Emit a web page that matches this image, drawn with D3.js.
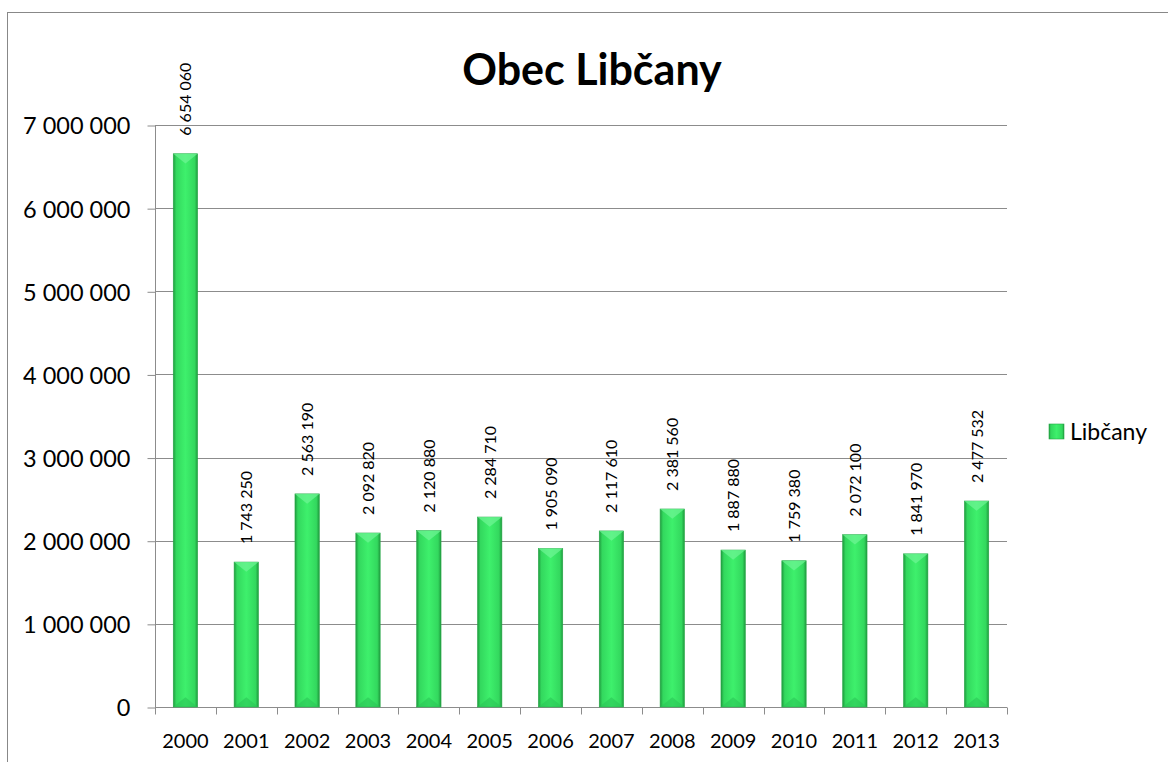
<!DOCTYPE html>
<html><head><meta charset="utf-8">
<script src="https://cdn.jsdelivr.net/npm/d3@7"></script>
<style>body{margin:0;background:#fff}svg{display:block}text{font-family:Lato,"Open Sans",sans-serif}</style>
</head><body>
<script>
const categories = ["2000","2001","2002","2003","2004","2005","2006","2007","2008","2009","2010","2011","2012","2013"];
const values = [6654060,1743250,2563190,2092820,2120880,2284710,1905090,2117610,2381560,1887880,1759380,2072100,1841970,2477532];
const yTicks = [0,1000000,2000000,3000000,4000000,5000000,6000000,7000000];
const seriesName = "Libčany";
const title = "Obec Libčany";

const W=1168,H=762;
const svg=d3.select("body").append("svg").attr("width",W).attr("height",H);
const fmt=v=>d3.format(",")(v).replace(/,/g," ");

svg.append("rect").attr("x",7.5).attr("y",12.5).attr("width",1180).attr("height",800).attr("fill","#fff").attr("stroke","#888").attr("stroke-width",1);

const x=d3.scaleBand().domain(categories).range([155,1007]).paddingInner(0.6).paddingOuter(0.3);
const xb=d3.scaleBand().domain(categories).range([155,1007]);
const y=d3.scaleLinear().domain([0,7000000]).range([707,125]);

const defs=svg.append("defs");
const g=defs.append("linearGradient").attr("id","bar").attr("x1","0").attr("x2","1").attr("y1","0").attr("y2","0");
g.append("stop").attr("offset","0").attr("stop-color","#1f9a3e");
g.append("stop").attr("offset","0.12").attr("stop-color","#33d85e");
g.append("stop").attr("offset","0.5").attr("stop-color","#3ef06c");
g.append("stop").attr("offset","0.88").attr("stop-color","#33d85e");
g.append("stop").attr("offset","1").attr("stop-color","#1f9a3e");

// gridlines
svg.append("g").selectAll("line").data(yTicks.slice(1)).join("line")
 .attr("x1",155).attr("x2",1007).attr("y1",d=>Math.round(y(d))+0.5).attr("y2",d=>Math.round(y(d))+0.5)
 .attr("stroke","#8c8c8c").attr("stroke-width",1);

// y axis
const ya=svg.append("g").attr("transform","translate(155.5,0.5)").call(d3.axisLeft(y).tickValues(yTicks).tickFormat(fmt).tickSize(8).tickPadding(17));
ya.select(".domain").attr("stroke","#8c8c8c").attr("d","M0,"+Math.round(y(7000000))+"V"+Math.round(y(0)));
ya.selectAll(".tick line").attr("stroke","#8c8c8c");
ya.selectAll("text").attr("font-size",23.5).attr("fill","#000").attr("font-family","Lato").attr("dy","0.36em");

// x axis
const xa=svg.append("g").attr("transform","translate(0,"+(Math.round(y(0))+0.5)+")");
xa.append("line").attr("x1",155).attr("x2",1007).attr("stroke","#8c8c8c");
const bounds=categories.map(c=>xb(c)).concat([1007]);
xa.selectAll("line.t").data(bounds).join("line").attr("class","t")
 .attr("x1",d=>Math.round(d)+0.5).attr("x2",d=>Math.round(d)+0.5).attr("y1",0).attr("y2",7).attr("stroke","#8c8c8c");
xa.selectAll("text").data(categories).join("text")
 .attr("x",d=>xb(d)+xb.bandwidth()/2).attr("y",40).attr("text-anchor","middle").attr("font-size",20).text(d=>d);

// bars
const data=categories.map((c,i)=>({c,v:values[i]}));
const bars=svg.append("g");
bars.selectAll("rect").data(data).join("rect")
 .attr("x",d=>x(d.c)).attr("width",x.bandwidth()).attr("y",d=>y(d.v)).attr("height",d=>y(0)-y(d.v))
 .attr("fill","url(#bar)").attr("stroke","#27a847").attr("stroke-width",0.6);
bars.selectAll("path.top").data(data).join("path").attr("class","top")
 .attr("d",d=>{const x0=x(d.c),w=x.bandwidth(),t=y(d.v);return `M${x0},${t}H${x0+w}L${x0+w/2},${t+w*0.4}Z`;})
 .attr("fill","#6ff596").attr("opacity",0.7);
bars.selectAll("path.bot").data(data).join("path").attr("class","bot")
 .attr("d",d=>{const x0=x(d.c),w=x.bandwidth(),b=y(0);return `M${x0},${b}H${x0+w}L${x0+w/2},${b-w*0.4}Z`;})
 .attr("fill","#2cc456").attr("opacity",0.6);

// data labels
svg.append("g").selectAll("text").data(data).join("text")
 .attr("transform",d=>`translate(${xb(d.c)+xb.bandwidth()/2+6},${y(d.v)-18}) rotate(-90)`)
 .attr("font-size",16).attr("text-anchor","start").text(d=>fmt(d.v));

// title
svg.append("text").attr("x",592).attr("y",85).attr("text-anchor","middle").attr("font-weight","bold").attr("font-size",43).text(title);

// legend
svg.append("rect").attr("x",1049).attr("y",424).attr("width",15).attr("height",15).attr("fill","url(#bar)").attr("stroke","#27a847").attr("stroke-width",0.6);
svg.append("text").attr("x",1070).attr("y",440).attr("font-size",23).text(seriesName);
</script>
</body></html>
